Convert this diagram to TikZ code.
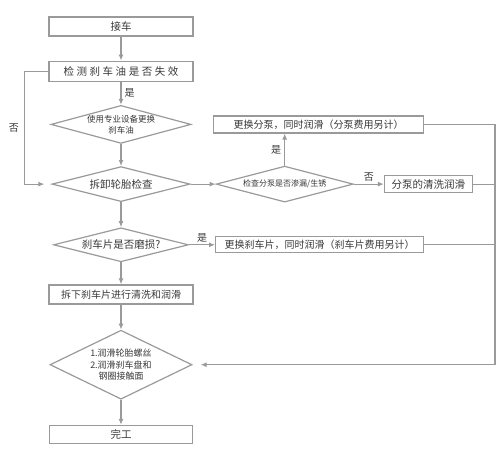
\documentclass[tikz,border=0pt]{standalone}
\usepackage{fontspec}
\setmainfont{Noto Sans CJK SC}
\newfontfamily\spaced[LetterSpace=24]{Noto Sans CJK SC}
\usetikzlibrary{arrows.meta,positioning,shapes.geometric}
\definecolor{linegray}{HTML}{9A9A9A}
\definecolor{textgray}{HTML}{383838}

\begin{document}
\begin{tikzpicture}[
  box/.style={draw=linegray, line width=1.2pt, minimum width=144pt, minimum height=19pt, inner sep=0pt, text=textgray, font=\fontsize{10.5}{12}\selectfont},
  widebox/.style={box, minimum width=209pt, minimum height=17pt, font=\fontsize{10}{12}\selectfont},
  dia/.style={diamond, draw=linegray, line width=1.2pt, inner sep=0pt},
  dtext/.style={align=center, text=textgray, inner sep=0pt, font=\fontsize{8.5}{11}\selectfont},
  arr/.style={-{Latex[length=6pt,width=5pt]}, draw=linegray, line width=1.2pt},
  line/.style={draw=linegray, line width=1.2pt},
  lbl/.style={text=textgray, font=\fontsize{10}{12}\selectfont, inner sep=1pt},
  node distance=24pt
]
\useasboundingbox (0,0) rectangle (500pt,-448pt);

% main column
\node[box] (pickup) at (121pt,-26.5pt) {接车};
\node[box, below=of pickup, minimum height=20pt] (oilcheck) {\spaced 检测刹车油是否失效};
\node[dia, below=23pt of oilcheck, minimum width=140pt, minimum height=38pt,
  label={[dtext]center:使用专业设备更换\\刹车油}] (oilswap) {};
\node[dia, below=22pt of oilswap, minimum width=138pt, minimum height=35pt,
  label={[dtext, font=\fontsize{10.5}{12}\selectfont]center:拆卸轮胎检查}] (tyre) {};
\node[dia, below=25pt of tyre, minimum width=135pt, minimum height=34pt,
  label={[dtext, font=\fontsize{10.5}{12}\selectfont]center:刹车片是否磨损?}] (padwear) {};
\node[box, below=22pt of padwear, font=\fontsize{10}{12}\selectfont] (padclean) {拆下刹车片进行清洗和润滑};
\node[dia, below=25pt of padclean, minimum width=142pt, minimum height=69pt,
  label={[dtext, font=\fontsize{9}{11.5}\selectfont]center:1.润滑轮胎螺丝\\2.润滑刹车盘和\\钢圈接触面}] (lube) {};
\node[box, below=25pt of lube, minimum width=143pt, minimum height=18pt] (done) {完工};

% right branch
\node[dia, right=25pt of tyre, minimum width=137pt, minimum height=36pt,
  label={[dtext, font=\fontsize{8}{10}\selectfont]center:检查分泵是否渗漏/生锈}] (pumpcheck) {};
\node[widebox, above=32pt of pumpcheck, xshift=34pt, minimum width=210pt] (pumpswap) {更换分泵，同时润滑（分泵费用另计）};
\node[box, right=30pt of pumpcheck, minimum width=88pt, minimum height=17pt] (pumpclean) {分泵的清洗润滑};
\node[widebox, right=26pt of padwear, minimum width=208pt, minimum height=16pt] (padswap) {更换刹车片，同时润滑（刹车片费用另计）};
\coordinate[right=22pt of pumpclean.east] (rail);

\draw[arr] (pickup) -- (oilcheck);
\draw[arr] (oilcheck) -- node[lbl, right=2pt] {是} (oilswap);
\draw[arr] (oilswap) -- (tyre);
\draw[arr] (oilcheck.west) -- ++(-24pt,0) |- node[lbl, pos=0.25, left=4pt] {否} ([xshift=-7pt]tyre.west);
\draw[arr] (tyre) -- (pumpcheck);
\draw[arr] (pumpcheck.north) -- node[lbl, left=2pt] {是} (pumpcheck.north |- pumpswap.south);
\draw[arr] (pumpcheck) -- node[lbl, above=1pt] {否} (pumpclean);
\draw[arr] (tyre) -- (padwear);
\draw[arr] (padwear) -- node[lbl, above=1pt] {是} (padswap);
\draw[arr] (padwear) -- (padclean);
\draw[arr] (padclean) -- (lube);
\draw[arr] (lube) -- (done);

% return line
\draw[arr] (pumpswap.east) -| (rail |- lube.east) -- ([xshift=8pt]lube.east);
\draw[line] (pumpclean.east) -- (rail);
\draw[line] (padswap.east) -- (rail |- padswap.east);

\end{tikzpicture}
\end{document}
